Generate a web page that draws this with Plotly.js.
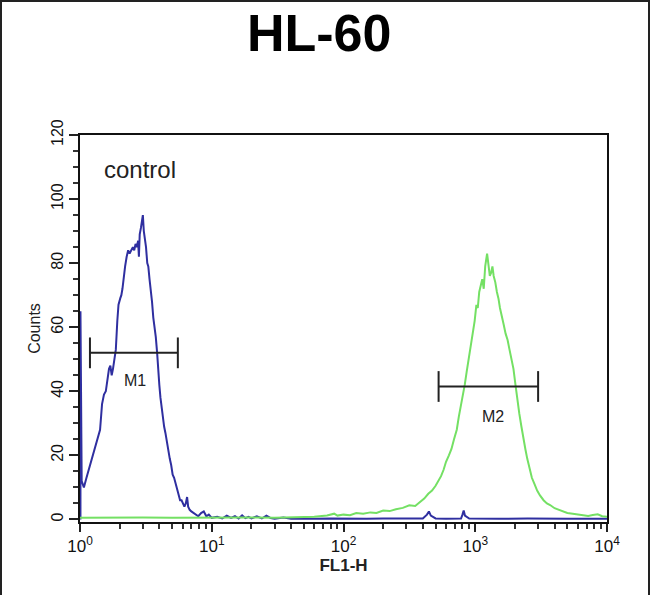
<!DOCTYPE html>
<html>
<head>
<meta charset="utf-8">
<script src="https://cdn.plot.ly/plotly-3.0.1.min.js"></script>
<style>
  html, body { margin: 0; padding: 0; background: #fff; }
  #wrap { position: relative; width: 650px; height: 595px; }
  #chart { width: 650px; height: 595px; }
  #frame { position: absolute; left: 0; top: 0; width: 646px; height: 600px;
           border-left: 2px solid #222; border-right: 2px solid #222; border-top: 2px solid #222;
           pointer-events: none; }
</style>
</head>
<body>
<div id="wrap"><div id="chart"></div><div id="frame"></div></div>
<script>
// ---- data ----
const chartTitle = "HL-60";
const xTickVals = [1, 10, 100, 1000, 10000];
const xTickText = ["10<sup>0</sup>", "10<sup>1</sup>", "10<sup>2</sup>", "10<sup>3</sup>", "10<sup>4</sup>"];
const yTickVals = [0, 20, 40, 60, 80, 100, 120];

// control histogram (blue)
const ctrlFL1 = [1.008, 1.008, 1.03, 1.07, 1.12, 1.19, 1.25, 1.30, 1.36, 1.42, 1.47, 1.52, 1.57, 1.61, 1.66, 1.70, 1.74, 1.78, 1.83, 1.87, 1.92, 1.96,
  2.02, 2.06, 2.10, 2.15, 2.20, 2.26, 2.32, 2.38, 2.45, 2.52, 2.58, 2.64, 2.70, 2.76, 2.80, 2.84, 2.90, 2.96, 3.00, 3.05, 3.10, 3.17, 3.24,
  3.30, 3.37, 3.44, 3.52, 3.60, 3.68, 3.76, 3.85, 3.92, 4.00, 4.08, 4.16, 4.25, 4.35, 4.45, 4.56, 4.68, 4.80, 4.92, 5.05, 5.18, 5.32,
  5.46, 5.60, 5.75, 5.90, 6.05, 6.20, 6.35, 6.50, 6.62, 6.80, 7.0, 7.3, 7.6, 7.9, 8.3, 8.7, 9.1, 9.5, 10, 11, 12, 13, 14, 15, 16, 17,
  18, 19, 20, 22, 24, 26, 28, 30, 35, 40, 50, 60, 80, 100, 150, 200, 300, 400, 430, 445, 460, 500, 600, 780, 800, 817, 835, 900,
  1500, 2500, 5000, 7000, 10000];
const ctrlCounts = [0, 65, 12, 10, 13, 17, 20, 22, 25, 28, 36, 39, 40, 43, 47, 48, 45, 47, 51, 53, 62, 67,
  69, 70, 72, 76, 79, 82, 84, 83, 84, 85, 84, 86, 85, 87, 82, 89, 91, 93, 95, 90, 88, 85, 80,
  79, 75, 72, 68, 63, 60, 57, 52, 46, 42, 38, 35, 32, 29, 27, 24, 21, 19, 17, 14, 13, 11,
  9, 8, 6, 6, 5, 4, 5, 7, 4, 3, 2.5, 2, 1.5, 1, 2, 2.5, 1, 1.5, 0.5, 0.8, 0.3, 1.2, 0.5, 1, 0.3, 1.3,
  0.4, 0.8, 0.3, 1, 0.3, 1.2, 0.4, 0.2, 0.6, 0.2, 0.3, 0.2, 0.3, 0.2, 0.2, 0.3, 0.2, 0.3, 1.5, 2.5, 1.2, 0.3, 0.2, 0.3, 1.5, 2.8, 1.2, 0.3,
  0.2, 0.3, 0.2, 0.3, 0.2];

// stained histogram (green)
const stainFL1 = [1, 1.5, 2, 3, 5, 8, 12, 20, 30, 45, 60, 75, 85, 90, 100, 112, 125, 141, 160, 178, 200, 224, 250, 282, 316, 350,
  380, 410, 440, 470, 500, 525, 550, 575, 600, 631, 660, 690, 724, 750, 776, 800, 832, 860, 891, 915, 940, 965, 990, 1020, 1045,
  1072, 1100, 1130, 1160, 1190, 1230, 1260, 1290, 1320, 1350, 1380, 1420, 1460, 1500, 1540, 1585, 1640, 1700, 1760, 1820, 1890,
  1950, 2020, 2090, 2160, 2240, 2320, 2400, 2480, 2570, 2690, 2818, 2950, 3100, 3300, 3500, 3700, 4000, 4300, 4700, 5000, 5500,
  6000, 6600, 7200, 7800, 8500, 9200, 10000];
const stainCounts = [0.5, 0.6, 0.5, 0.6, 0.5, 0.6, 0.5, 0.6, 0.5, 0.7, 0.8, 1.2, 1.8, 1.2, 1.5, 1.3, 2, 1.8, 2.2, 2, 2.8, 2.6, 3.2, 3.6, 4.4, 4.2,
  5.5, 6.5, 8, 9, 10.5, 12, 13.5, 15.5, 18, 20, 22, 25, 28, 32, 35, 38, 42, 46, 50, 53, 56, 59, 62, 67, 66,
  71, 73, 75, 72, 79, 83, 80, 76, 77, 79, 76, 74, 71, 69, 66, 64, 61, 58, 56, 53, 50,
  47, 42, 37, 33, 29, 25, 22, 19, 16, 13, 11, 9, 7.5, 6, 5, 4.5, 3.5, 3, 2.2, 2, 1.8,
  1.5, 1.3, 1.1, 1.4, 1.6, 1, 0.8];

// markers
const markerNames = ["M1", "M2"];
const markerLo = [1.19, 527];
const markerHi = [5.53, 3000];
const markerY = [52, 41.5];
const markerCap = 4.8;
const markerLabelX = [2.63, 1360];
const markerLabelY = [43.4, 32.2];

const sampleLabel = "control";

// ---- build ----
const blue = '#2f2fa0';
const green = '#74e064';
const font = 'Liberation Sans, Arial, sans-serif';

const traces = [
  { x: ctrlFL1, y: ctrlCounts, type: 'scatter', mode: 'lines', line: { color: blue, width: 2 }, hoverinfo: 'skip' },
  { x: stainFL1, y: stainCounts, type: 'scatter', mode: 'lines', line: { color: green, width: 2 }, hoverinfo: 'skip' }
];
markerNames.forEach((n, i) => {
  const lo = markerLo[i], hi = markerHi[i], y = markerY[i];
  traces.push({
    x: [lo, lo, null, lo, hi, null, hi, hi],
    y: [y - markerCap, y + markerCap, null, y, y, null, y - markerCap, y + markerCap],
    type: 'scatter', mode: 'lines', line: { color: '#222', width: 2 }, hoverinfo: 'skip'
  });
});

const annotations = [
  { x: Math.log10(2.85), y: 109.2, xref: 'x', yref: 'y', text: sampleLabel, showarrow: false,
    font: { family: font, size: 24, color: '#222' } }
];
markerNames.forEach((n, i) => {
  annotations.push({ x: Math.log10(markerLabelX[i]), y: markerLabelY[i], xref: 'x', yref: 'y', text: n, showarrow: false,
    font: { family: font, size: 16, color: '#222' } });
});

const minorX = [];
for (let d = 1; d < 10000; d *= 10) for (let k = 2; k <= 9; k++) minorX.push(d * k);

const layout = {
  width: 650, height: 595,
  margin: { l: 80, r: 43, t: 135, b: 73 },
  paper_bgcolor: '#fff', plot_bgcolor: '#fff',
  showlegend: false,
  title: { text: '<b>' + chartTitle + '</b>', font: { family: font, size: 52, color: '#000' },
           x: 0.491, xref: 'container', xanchor: 'center', y: 1 - 33 / 595, yref: 'container', yanchor: 'middle' },
  xaxis: {
    type: 'log', range: [0, 4], showgrid: false, zeroline: false,
    showline: true, linecolor: '#111', linewidth: 2, mirror: true,
    tickmode: 'array', tickvals: xTickVals, ticktext: xTickText,
    ticks: 'outside', ticklen: 8, tickwidth: 2, tickcolor: '#222',
    tickfont: { family: font, size: 17, color: '#111' },
    minor: { tickmode: 'array', tickvals: minorX, ticks: 'outside', ticklen: 5, tickwidth: 2, tickcolor: '#333' },
    title: { text: '<b>FL1-H</b>', font: { family: font, size: 17, color: '#222' }, standoff: 2 },
    layer: 'below traces'
  },
  yaxis: {
    range: [-0.8, 120], showgrid: false, zeroline: false,
    showline: true, linecolor: '#111', linewidth: 2, mirror: true,
    tickmode: 'array', tickvals: yTickVals, tickangle: -90,
    ticks: 'outside', ticklen: 9, tickwidth: 2, tickcolor: '#222',
    tickfont: { family: font, size: 16, color: '#111' },
    minor: { dtick: 5, ticks: 'outside', ticklen: 5, tickwidth: 2, tickcolor: '#333' },
    title: { text: 'Counts', font: { family: font, size: 16, color: '#222' }, standoff: 4 },
    layer: 'below traces'
  },
  annotations: annotations
};

Plotly.newPlot('chart', traces, layout, { staticPlot: true, displayModeBar: false });
</script>
</body>
</html>
